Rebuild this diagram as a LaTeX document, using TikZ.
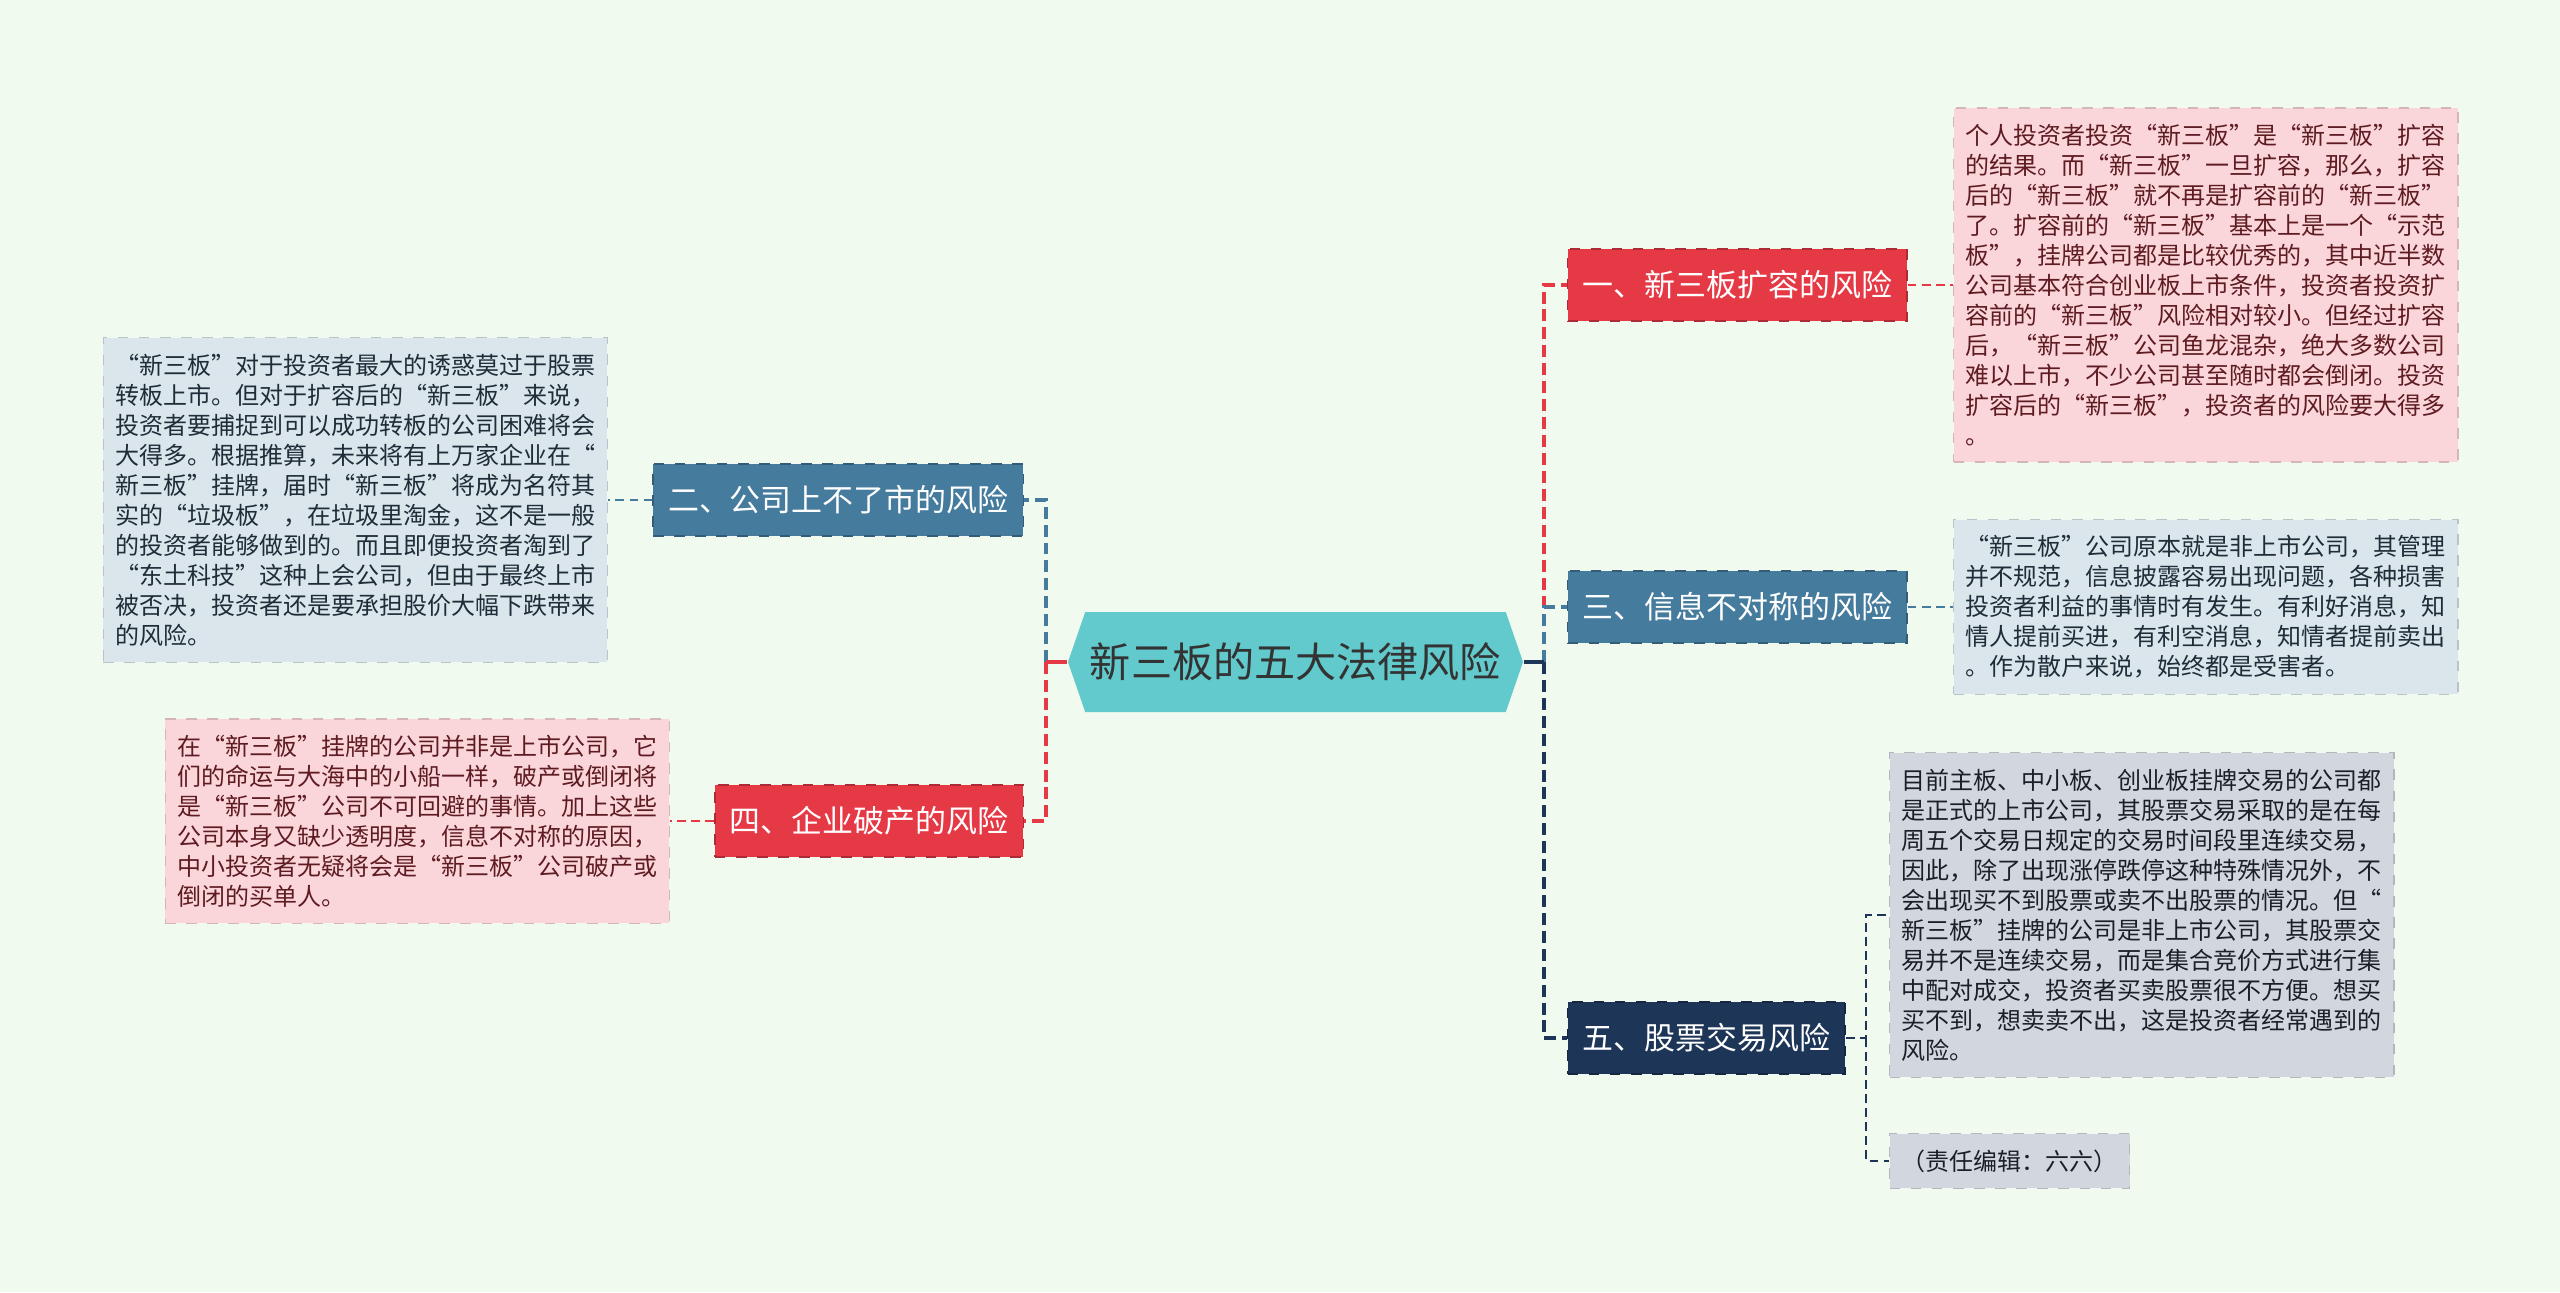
\documentclass[tikz,border=0pt]{standalone}
\usepackage{fontspec}
\setmainfont{Noto Sans CJK SC}
\usetikzlibrary{shapes.symbols}

\definecolor{bgmint}{HTML}{F1FAEE}
\definecolor{rootteal}{HTML}{62C9CC}
\definecolor{riskred}{HTML}{E63946}
\definecolor{riskblue}{HTML}{457B9D}
\definecolor{risknavy}{HTML}{1D3557}
\definecolor{leafpink}{HTML}{FAD6DA}
\definecolor{leafblue}{HTML}{DAE5EC}
\definecolor{leafgrey}{HTML}{D2D7DF}
\definecolor{inkpink}{HTML}{5E1B22}
\definecolor{inkblue}{HTML}{1F2D38}
\definecolor{inkgrey}{HTML}{1B1F26}

\tikzset{
  rootbox/.style={shape=signal, signal to=west and east, signal pointer angle=142,
    fill=rootteal, text=black!80, font=\fontsize{11.7pt}{14pt}\selectfont,
    minimum width=4.55cm, minimum height=1.0cm, inner sep=0pt},
  branchbox/.style={fill=#1, draw=#1!75!black, dashed, text=white,
    font=\fontsize{8.8pt}{10.5pt}\selectfont, minimum height=0.72cm, inner xsep=0.15cm},
  leafbox/.style={fill=#1, draw=#1!85!black, dashed, align=left,
    font=\fontsize{6.83pt}{8.54pt}\selectfont, inner xsep=0.12cm, inner ysep=0.16cm},
  stub/.style={#1, line width=0.9pt},
  link/.style={#1, line width=0.9pt, dash pattern=on 3.4pt off 1.7pt},
  leaflink/.style={#1, line width=0.5pt, dash pattern=on 2.5pt off 1.5pt},
}

\begin{document}
\begin{tikzpicture}
    \fill[bgmint] (0,0) rectangle (25.6,12.92);
    \useasboundingbox (0,0) rectangle (25.6,12.92);

    % --- Root ---
    \node[rootbox] (root) at (12.955,6.30) {新三板的五大法律风险};

    % --- Left branches ---
    \node[branchbox=riskblue, anchor=east] (gongsi) at (10.24,7.92) {二、公司上不了市的风险};
    \node[branchbox=riskred, anchor=east] (pochan) at (10.24,4.71) {四、企业破产的风险};

    % --- Right branches ---
    \node[branchbox=riskred, anchor=west] (kuorong) at (15.67,10.07) {一、新三板扩容的风险};
    \node[branchbox=riskblue, anchor=west] (xinxi) at (15.67,6.85) {三、信息不对称的风险};
    \node[branchbox=risknavy, anchor=west] (jiaoyi) at (15.67,2.54) {五、股票交易风险};

    % --- Leaves ---
    \node[leafbox=leafblue, text=inkblue, anchor=east] (gongsitxt) at (6.08,7.92) {%
      “新三板”对于投资者最大的诱惑莫过于股票\\
      转板上市。但对于扩容后的“新三板”来说，\\
      投资者要捕捉到可以成功转板的公司困难将会\\
      大得多。根据推算，未来将有上万家企业在“\\
      新三板”挂牌，届时“新三板”将成为名符其\\
      实的“垃圾板”，在垃圾里淘金，这不是一般\\
      的投资者能够做到的。而且即便投资者淘到了\\
      “东土科技”这种上会公司，但由于最终上市\\
      被否决，投资者还是要承担股价大幅下跌带来\\
      的风险。};
    \node[leafbox=leafpink, text=inkpink, anchor=east] (pochantxt) at (6.70,4.71) {%
      在“新三板”挂牌的公司并非是上市公司，它\\
      们的命运与大海中的小船一样，破产或倒闭将\\
      是“新三板”公司不可回避的事情。加上这些\\
      公司本身又缺少透明度，信息不对称的原因，\\
      中小投资者无疑将会是“新三板”公司破产或\\
      倒闭的买单人。};
    \node[leafbox=leafpink, text=inkpink, anchor=west] (kuorongtxt) at (19.53,10.07) {%
      个人投资者投资“新三板”是“新三板”扩容\\
      的结果。而“新三板”一旦扩容，那么，扩容\\
      后的“新三板”就不再是扩容前的“新三板”\\
      了。扩容前的“新三板”基本上是一个“示范\\
      板”，挂牌公司都是比较优秀的，其中近半数\\
      公司基本符合创业板上市条件，投资者投资扩\\
      容前的“新三板”风险相对较小。但经过扩容\\
      后，“新三板”公司鱼龙混杂，绝大多数公司\\
      难以上市，不少公司甚至随时都会倒闭。投资\\
      扩容后的“新三板”，投资者的风险要大得多\\
      。};
    \node[leafbox=leafblue, text=inkblue, anchor=west] (xinxitxt) at (19.53,6.85) {%
      “新三板”公司原本就是非上市公司，其管理\\
      并不规范，信息披露容易出现问题，各种损害\\
      投资者利益的事情时有发生。有利好消息，知\\
      情人提前买进，有利空消息，知情者提前卖出\\
      。作为散户来说，始终都是受害者。};
    \node[leafbox=leafgrey, text=inkgrey, anchor=west] (jiaoyitxt) at (18.89,3.77) {%
      目前主板、中小板、创业板挂牌交易的公司都\\
      是正式的上市公司，其股票交易采取的是在每\\
      周五个交易日规定的交易时间段里连续交易，\\
      因此，除了出现涨停跌停这种特殊情况外，不\\
      会出现买不到股票或卖不出股票的情况。但“\\
      新三板”挂牌的公司是非上市公司，其股票交\\
      易并不是连续交易，而是集合竞价方式进行集\\
      中配对成交，投资者买卖股票很不方便。想买\\
      买不到，想卖卖不出，这是投资者经常遇到的\\
      风险。};
    \node[leafbox=leafgrey, text=inkgrey, anchor=west] (bianji) at (18.89,1.31) {（责任编辑：六六）};

    % --- Connectors ---
    \coordinate (ltrunk) at (10.46,6.30);
    \coordinate (rtrunk) at (15.44,6.30);
    \coordinate (jtrunk) at (18.66,2.54);

    \draw[link=riskblue] (ltrunk) |- (gongsi.east);
    \draw[link=riskred] (ltrunk) |- (pochan.east);
    \draw[stub=riskred] (root.west) -- (ltrunk);

    \draw[link=riskred] (rtrunk) |- (kuorong.west);
    \draw[link=riskblue] (rtrunk) |- (xinxi.west);
    \draw[link=risknavy] (rtrunk) |- (jiaoyi.west);
    \draw[stub=risknavy] (root.east) -- (rtrunk);

    \draw[leaflink=riskblue] (gongsi.west) -- (gongsitxt.east);
    \draw[leaflink=riskred] (pochan.west) -- (pochantxt.east);
    \draw[leaflink=riskred] (kuorong.east) -- (kuorongtxt.west);
    \draw[leaflink=riskblue] (xinxi.east) -- (xinxitxt.west);
    \draw[leaflink=risknavy] (jiaoyi.east) -- (jtrunk) |- (jiaoyitxt.west);
    \draw[leaflink=risknavy] (jtrunk) |- (bianji.west);
\end{tikzpicture}
\end{document}
